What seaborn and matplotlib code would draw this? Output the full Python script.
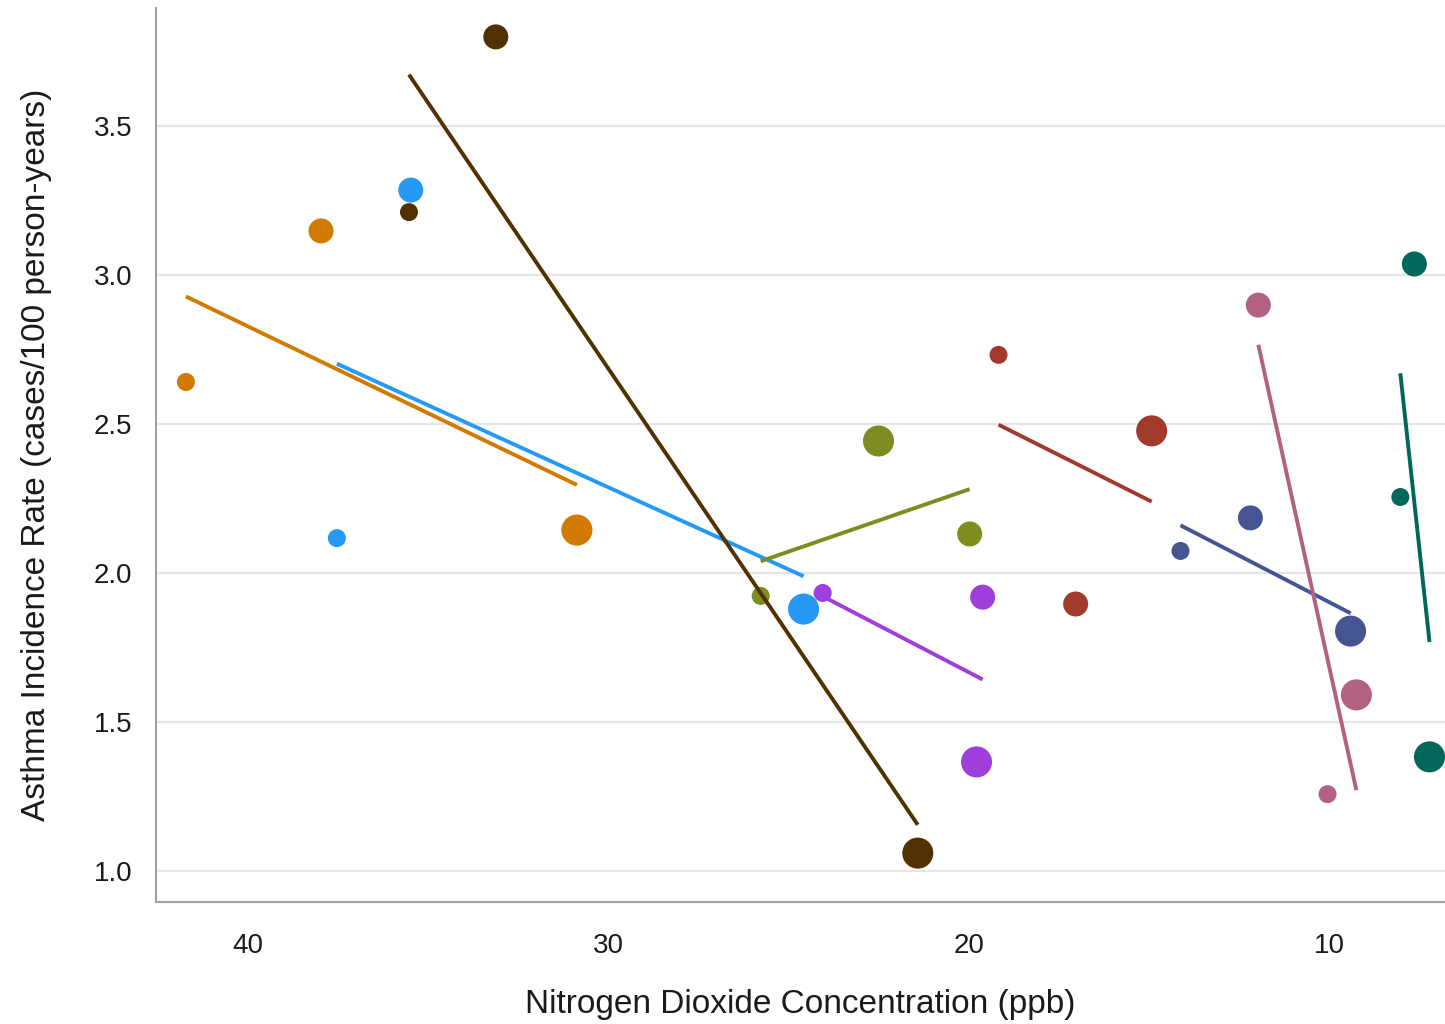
import numpy as np
import pandas as pd
import matplotlib
matplotlib.use("Agg")
import matplotlib.pyplot as plt
import seaborn as sns
from matplotlib.ticker import FormatStrFormatter

# ---- data ----
sites = ["Site A", "Site B", "Site C", "Site D", "Site E", "Site F", "Site G", "Site H", "Site I"]
site_colors = ["#D27A00", "#2599F6", "#523100", "#7F8C1F", "#9F3FDB",
               "#A23A2C", "#455592", "#B26183", "#00675A"]

no2_a = [41.72, 37.97, 30.87]
no2_b = [37.53, 35.48, 24.58]
no2_c = [35.53, 33.12, 21.41]
no2_d = [25.77, 22.50, 19.97]
no2_e = [24.05, 19.61, 19.78]
no2_f = [19.17, 14.92, 17.03]
no2_g = [14.12, 12.18, 9.40]
no2_h = [11.96, 10.04, 9.24]
no2_i = [8.02, 7.63, 7.21]

rate_a = [2.641, 3.148, 2.144]
rate_b = [2.117, 3.285, 1.879]
rate_c = [3.211, 3.799, 1.060]
rate_d = [1.923, 2.443, 2.131]
rate_e = [1.933, 1.919, 1.366]
rate_f = [2.732, 2.477, 1.896]
rate_g = [2.074, 2.185, 1.805]
rate_h = [2.899, 1.258, 1.591]
rate_i = [2.255, 3.037, 1.383]

period_a = [1, 2, 3]
period_b = [1, 2, 3]
period_c = [1, 2, 3]
period_d = [1, 3, 2]
period_e = [1, 2, 3]
period_f = [1, 3, 2]
period_g = [1, 2, 3]
period_h = [2, 1, 3]
period_i = [1, 2, 3]

x_ticks = [40, 30, 20, 10]
y_ticks = [1.0, 1.5, 2.0, 2.5, 3.0, 3.5]

no2_all = [no2_a, no2_b, no2_c, no2_d, no2_e, no2_f, no2_g, no2_h, no2_i]
rate_all = [rate_a, rate_b, rate_c, rate_d, rate_e, rate_f, rate_g, rate_h, rate_i]
period_all = [period_a, period_b, period_c, period_d, period_e, period_f, period_g, period_h, period_i]

rows = []
for s, xs, ys, ps in zip(sites, no2_all, rate_all, period_all):
    for x, y, p in zip(xs, ys, ps):
        rows.append({"site": s, "no2": x, "rate": y, "period": p})
df = pd.DataFrame(rows)

# ---- style ----
sns.set_theme(style="white")
plt.rcParams["font.family"] = ["Liberation Sans", "DejaVu Sans"]
TXT = "#1a1a1a"
AX = "#9ea2a7"

fig = plt.figure(figsize=(14.45, 10.24), dpi=100)
ax = fig.add_axes([156 / 1445, 1 - 902 / 1024, 1 - 156 / 1445, (902 - 8) / 1024])

palette = dict(zip(sites, site_colors))
sns.scatterplot(data=df, x="no2", y="rate", hue="site", hue_order=sites,
                palette=palette, size="period", sizes={1: 168, 2: 324, 3: 500},
                linewidth=0, alpha=1, legend=False, ax=ax, zorder=3)

for s in sites:
    sub = df[df["site"] == s]
    sns.regplot(data=sub, x="no2", y="rate", scatter=False, ci=None, truncate=True,
                color=palette[s], line_kws={"lw": 2.8, "zorder": 4,
                                            "solid_capstyle": "butt"}, ax=ax)

ax.set_xlim(42.55, 6.78)
ax.set_ylim(0.896, 3.896)
ax.set_xticks(x_ticks)
ax.set_yticks(y_ticks)
ax.yaxis.set_major_formatter(FormatStrFormatter("%.1f"))

ax.yaxis.grid(True, color="#e6e6e6", lw=1.6)
ax.xaxis.grid(False)
ax.set_axisbelow(True)

for side in ["top", "right"]:
    ax.spines[side].set_visible(False)
for side in ["left", "bottom"]:
    ax.spines[side].set_color(AX)
    ax.spines[side].set_linewidth(1.5)

ax.tick_params(axis="both", which="major", direction="out", length=11, width=1.3,
               color=AX, labelsize=20, labelcolor=TXT)
ax.tick_params(axis="x", pad=11)
ax.tick_params(axis="y", pad=6)

ax.set_xlabel("Nitrogen Dioxide Concentration (ppb)", fontsize=24, color=TXT, labelpad=22)
ax.set_ylabel("Asthma Incidence Rate (cases/100 person-years)", fontsize=24, color=TXT, labelpad=30)

fig.savefig("out.png", dpi=100)
